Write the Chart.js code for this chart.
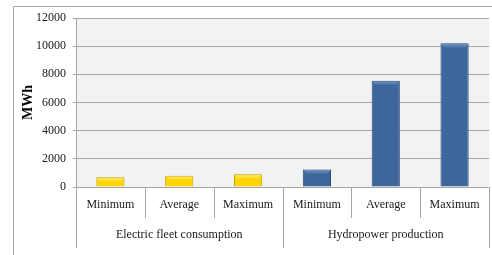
<!DOCTYPE html>
<html>
<head>
<meta charset="utf-8">
<script src="https://cdn.jsdelivr.net/npm/chart.js@4/dist/chart.umd.min.js"></script>
<style>
  html, body { margin: 0; padding: 0; background: #fff; }
  #wrap { width: 492px; height: 255px; }
</style>
</head>
<body>
<div id="wrap"><canvas id="main"></canvas></div>
<script>
// values
const categories = ['Minimum', 'Average', 'Maximum', 'Minimum', 'Average', 'Maximum'];
const groups = ['Electric fleet consumption', 'Hydropower production'];
const fleetValues = [700, 800, 900];
const hydroValues = [1250, 7550, 10200];
const yMin = 0, yMax = 12000, yStep = 2000;

const serif = '"Liberation Serif", "Times New Roman", serif';
const lineGray = '#a6a6a6';

// colours for each bar: [edge, main, highlight]
const yellow = ['#c9a200', '#ffd400', '#fff07a'];
const blue = ['#2a4d78', '#3d679b', '#7b9cc8'];
const barColors = fleetValues.map(() => yellow).concat(hydroValues.map(() => blue));

const barFill = (ctx) => {
    const c = barColors[ctx.dataIndex];
    const el = ctx.element;
    if (!el || !isFinite(el.x) || !isFinite(el.width)) return c[1];
    const x0 = el.x - el.width / 2, x1 = el.x + el.width / 2;
    const g = ctx.chart.ctx.createLinearGradient(x0, 0, x1, 0);
    g.addColorStop(0, c[0]);
    g.addColorStop(0.12, c[1]);
    g.addColorStop(0.88, c[1]);
    g.addColorStop(1, c[0]);
    return g;
}

const frame = {
    id: 'frame',
    beforeDraw(chart) {
        const ctx = chart.ctx, a = chart.chartArea;
        ctx.save();
        ctx.fillStyle = '#fff';
        ctx.fillRect(0, 0, chart.width, chart.height);
        ctx.strokeStyle = lineGray;
        ctx.lineWidth = 1;
        ctx.beginPath();
        ctx.moveTo(13.5, chart.height);
        ctx.lineTo(13.5, 6.5);
        ctx.lineTo(chart.width, 6.5);
        ctx.stroke();
        ctx.fillStyle = '#f2f2f2';
        ctx.fillRect(a.left, a.top, a.right - a.left, a.bottom - a.top);
        ctx.restore();
    },
    afterDatasetsDraw(chart) {
        // little bevel at the top of each bar
        const ctx = chart.ctx;
        const meta = chart.getDatasetMeta(0);
        ctx.save();
        meta.data.forEach((bar, i) => {
            const c = barColors[i];
            const x0 = bar.x - bar.width / 2, x1 = bar.x + bar.width / 2;
            const g = ctx.createLinearGradient(0, bar.y, 0, bar.y + 5);
            g.addColorStop(0, c[2]);
            g.addColorStop(1, c[1]);
            ctx.fillStyle = g;
            ctx.beginPath();
            ctx.moveTo(x0 + 1, bar.y + 1);
            ctx.lineTo(x1 - 1, bar.y + 1);
            ctx.lineTo(x1 - 4, bar.y + 5);
            ctx.lineTo(x0 + 4, bar.y + 5);
            ctx.closePath();
            ctx.fill();
        });
        ctx.restore();
    },
    afterDraw(chart) {
        const ctx = chart.ctx, a = chart.chartArea, x = chart.scales.x;
        const w = (a.right - a.left) / categories.length;
        ctx.save();
        ctx.strokeStyle = lineGray;
        ctx.lineWidth = 1;
        for (let i = 0; i <= categories.length; i++) {
            const px = Math.round(a.left + i * w) + 0.5;
            const end = (i % 3 === 0) ? a.bottom + 61 : a.bottom + 31;
            ctx.beginPath();
            ctx.moveTo(px, a.bottom);
            ctx.lineTo(px, end);
            ctx.stroke();
        }
        ctx.fillStyle = '#1a1a1a';
        ctx.font = '12px ' + serif;
        ctx.textAlign = 'center';
        ctx.textBaseline = 'middle';
        categories.forEach((c, i) => {
            ctx.fillText(c, x.getPixelForValue(i), a.bottom + 18);
        });
        groups.forEach((g, i) => {
            ctx.fillText(g, a.left + (i * 3 + 1.5) * w, a.bottom + 48);
        });
        ctx.restore();
    }
};

new Chart(document.getElementById('main'), {
    type: 'bar',
    data: {
        labels: categories,
        datasets: [{
            data: fleetValues.concat(hydroValues),
            backgroundColor: barFill,
            borderColor: barColors.map(c => c[0]),
            borderWidth: 1,
            barPercentage: 0.41,
            categoryPercentage: 1
        }]
    },
    options: {
        responsive: true,
        maintainAspectRatio: false,
        animation: false,
        devicePixelRatio: 1,
        layout: { padding: { left: 14, top: 18, right: 3, bottom: 68 } },
        plugins: { legend: { display: false }, tooltip: { enabled: false } },
        scales: {
            x: {
                display: false
            },
            y: {
                min: yMin,
                max: yMax,
                afterFit(scale) { scale.width = 62; },
                ticks: {
                    stepSize: yStep,
                    padding: 7,
                    color: '#1a1a1a',
                    font: { family: serif, size: 12 },
                    callback: (v) => String(v)
                },
                grid: { color: lineGray, tickLength: 3 },
                border: { color: lineGray },
                title: {
                    display: true,
                    text: 'MWh',
                    color: '#000',
                    font: { family: serif, size: 14, weight: 'bold' },
                    padding: { top: 6, bottom: 0 }
                }
            }
        }
    },
    plugins: [frame]
});
</script>
</body>
</html>
